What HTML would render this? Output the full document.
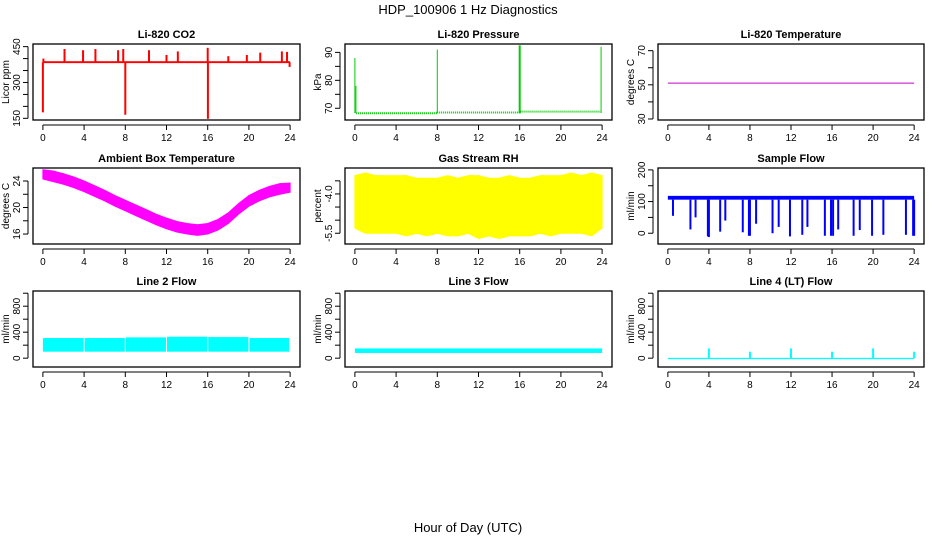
<!DOCTYPE html>
<html><head><meta charset="utf-8"><style>
html,body{margin:0;padding:0;background:#fff;}
svg{display:block;font-family:"Liberation Sans",Arial,sans-serif;}
</style></head><body>
<svg id="chart" width="936" height="540" viewBox="0 0 936 540" xmlns="http://www.w3.org/2000/svg">
<text x="468" y="14" font-size="13" text-anchor="middle">HDP_100906  1 Hz Diagnostics</text>
<text x="468" y="532" font-size="13" text-anchor="middle">Hour of Day (UTC)</text>
</svg>
<script>
// ---- data ----
const hourTicks = [0,4,8,12,16,20,24];
// CO2
const co2Base = 385;
const co2SpikeT = [0,0.05,2.1,3.9,5.1,7.3,7.8,8.0,10.3,12.0,13.1,16.0,16.02,18.0,19.8,21.1,23.2,23.7,23.95];
const co2SpikeV = [175,400,440,435,440,435,440,165,435,415,430,445,148,410,415,425,430,428,365];
// Pressure
const presBaseT = [0.1,8,8.01,16,16.01,24];
const presBaseV = [68.2,68.2,68.5,68.5,68.8,68.8];
const presSpikeT = [0.0,0.1,8.0,16.0,23.9];
const presSpikeV = [88,78,91,92.5,92];
// Li-820 temperature
const tempVal = 51;
// Ambient box temperature (hourly centre)
const ambT = [0,1,2,3,4,5,6,7,8,9,10,11,12,13,14,15,16,17,18,19,20,21,22,23,24];
const ambV = [25.0,24.7,24.3,23.8,23.2,22.5,21.8,21.0,20.3,19.6,18.9,18.2,17.6,17.1,16.8,16.6,16.8,17.4,18.4,19.8,21.0,21.8,22.4,22.8,23.0];
const ambHalfWidth = [0.7,0.8,0.8,0.8,0.8,0.8,0.8,0.8,0.8,0.8,0.8,0.8,0.8,0.8,0.8,0.8,0.8,0.8,0.8,0.8,0.8,0.8,0.8,0.8,0.7];
// Gas stream RH (hourly extremes)
const rhHi = [-3.3,-3.2,-3.3,-3.3,-3.3,-3.3,-3.4,-3.4,-3.4,-3.3,-3.4,-3.3,-3.3,-3.4,-3.4,-3.3,-3.4,-3.4,-3.3,-3.3,-3.3,-3.2,-3.3,-3.2,-3.3];
const rhLo = [-5.3,-5.5,-5.5,-5.5,-5.5,-5.6,-5.5,-5.6,-5.5,-5.6,-5.6,-5.5,-5.7,-5.6,-5.7,-5.6,-5.6,-5.6,-5.5,-5.6,-5.5,-5.5,-5.5,-5.6,-5.3];
// Sample flow
const sfHi = 118, sfLo = 106;
const sfDipT = [0.5,2.2,2.7,3.9,4.0,5.1,5.6,7.3,7.9,8.0,8.6,10.2,10.8,11.9,13.1,13.6,15.3,15.9,16.1,16.6,18.1,18.7,19.9,21.0,23.2,23.9,24.0];
const sfDipV = [55,12,50,-10,-12,5,40,3,-8,-8,30,0,20,-10,-5,20,-8,-8,-8,12,-8,10,-8,-5,-5,-8,-8];
// Line 2 flow
const l2SegT0 = [0,4.05,8.05,12.05,16.05,20.05];
const l2SegT1 = [3.95,7.95,11.95,15.95,19.95,23.9];
const l2SegHi = [310,310,320,330,325,310];
const l2Lo = 100;
// Line 3 flow
const l3Hi = 150, l3Lo = 80;
// Line 4 flow
const l4Hi = 5, l4Lo = -15;
const l4SpikeT = [4,8,12,16,20,24];
const l4SpikeV = [150,100,150,100,150,100];

// ---- layout ----
const svg = document.getElementById('chart');
const NS = 'http://www.w3.org/2000/svg';
const colL = [33,345,658], colR = [300,612,924];
const rowT = [44,168,291], rowB = [120,244,367];
function mk(tag, attrs, parent){
  const e = document.createElementNS(NS, tag);
  for (const k in attrs) e.setAttribute(k, attrs[k]);
  (parent||svg).appendChild(e);
  return e;
}
function panel(c, r, title, ylab, ymin, ymax, ticks, labels, name){
  const g = mk('g', {});
  
  
  const L = colL[c], R = colR[c], T = rowT[r], B = rowB[r];
  const xs = h => L + (h + 0.96) / 25.92 * (R - L);
  const ys = v => B - (v - ymin) / (ymax - ymin) * (B - T);
  const t = mk('text', {x:(L+R)/2, y:T-6, 'font-size':11, 'font-weight':'bold', 'text-anchor':'middle'}, g);
  t.textContent = title;
  
  
  const box = mk('rect', {x:L, y:T, width:R-L, height:B-T, fill:'none', stroke:'#000', 'stroke-width':1.3}, g);
  
  
  // x axis
  const xa = mk('g', {}, g);
  
  
  mk('line', {x1:xs(0), x2:xs(24), y1:B+5, y2:B+5, stroke:'#000'}, xa);
  hourTicks.forEach(h => {
    mk('line', {x1:xs(h), x2:xs(h), y1:B+5, y2:B+10, stroke:'#000'}, xa);
    const tl = mk('text', {x:xs(h), y:B+21, 'font-size':10, 'text-anchor':'middle'}, xa);
    tl.textContent = h;
  });
  // y axis
  const ya = mk('g', {}, g);
  
  
  mk('line', {x1:L-5, x2:L-5, y1:ys(ticks[0]), y2:ys(ticks[ticks.length-1]), stroke:'#000'}, ya);
  ticks.forEach(v => mk('line', {x1:L-10, x2:L-5, y1:ys(v), y2:ys(v), stroke:'#000'}, ya));
  labels.forEach(v => {
    const tl = mk('text', {x:0, y:0, 'font-size':10, 'text-anchor':'middle',
      transform:`translate(${L-13},${ys(v[0])}) rotate(-90)`}, ya);
    tl.textContent = v[1];
  });
  const yl = mk('text', {x:0, y:0, 'font-size':10, 'text-anchor':'middle',
    transform:`translate(${L-24},${(T+B)/2}) rotate(-90)`}, g);
  yl.textContent = ylab;
  
  
  const s = mk('g', {}, g);
  
  
  return {xs, ys, s};
}
function vline(p, x, y1, y2, col, w, nm){
  const e = mk('line', {x1:x, x2:x, y1:y1, y2:y2, stroke:col, 'stroke-width':w||1}, p.s);
  
  return e;
}
function rect(p, h0, h1, v0, v1, col, nm){
  const y0 = Math.min(p.ys(v0), p.ys(v1)), y1 = Math.max(p.ys(v0), p.ys(v1));
  const e = mk('rect', {x:p.xs(h0), y:y0, width:p.xs(h1)-p.xs(h0), height:Math.max(1,y1-y0), fill:col}, p.s);
  
  return e;
}
function band(p, tArr, hiArr, loArr, col, nm){
  let d = '';
  tArr.forEach((t,i) => d += (i ? 'L' : 'M') + p.xs(t) + ',' + p.ys(hiArr[i]));
  for (let i = tArr.length-1; i >= 0; i--) d += 'L' + p.xs(tArr[i]) + ',' + p.ys(loArr[i]);
  const e = mk('path', {d:d+'Z', fill:col, stroke:col, 'stroke-width':1}, p.s);
  
  return e;
}
const lab = a => a.map(v => [v, String(v)]);

// CO2
let p = panel(0,0,'Li-820 CO2','Licor ppm',143,461,[150,200,250,300,350,400,450],lab([150,300,450]),'co2');
rect(p, 0.05, 24, co2Base-4, co2Base+4, '#ff0000', 'co2-baseline');
co2SpikeT.forEach((t,i) => { const e = vline(p, p.xs(t), p.ys(co2Base), p.ys(co2SpikeV[i]), '#ff0000', 2, 'co2-spike');
   });

// Pressure
p = panel(1,0,'Li-820 Pressure','kPa',65.8,93.0,[70,75,80,85,90],lab([70,80,90]),'pressure');
{ let d=''; presBaseT.forEach((t,i)=> d += (i?'L':'M') + p.xs(t) + ',' + p.ys(presBaseV[i]));
  const e = mk('path', {d:d, fill:'none', stroke:'#00cc00', 'stroke-width':2, 'stroke-dasharray':'1,1'}, p.s);
   }
presSpikeT.forEach((t,i) => { const e = vline(p, p.xs(t), p.ys(68.3), p.ys(presSpikeV[i]), '#00cc00', i===3?2:1, 'pressure-spike');
   });

// Li-820 temperature
p = panel(2,0,'Li-820 Temperature','degrees C',29.4,73.9,[30,40,50,60,70],lab([30,50,70]),'li820-temp');
{ const e = mk('line', {x1:p.xs(0), x2:p.xs(24), y1:p.ys(tempVal), y2:p.ys(tempVal), stroke:'#cc00cc', 'stroke-width':1}, p.s);
   }

// Ambient
p = panel(0,1,'Ambient Box Temperature','degrees C',14.5,25.96,[16,18,20,22,24],lab([16,20,24]),'ambient-temp');
band(p, ambT, ambV.map((v,i)=>v+ambHalfWidth[i]), ambV.map((v,i)=>v-ambHalfWidth[i]), '#ff00ff', 'ambient-temp-band');

// RH
p = panel(1,1,'Gas Stream RH','percent',-5.91,-3.01,[-5.5,-5.0,-4.5,-4.0,-3.5],[[-5.5,'-5.5'],[-4.0,'-4.0']],'gas-rh');
band(p, ambT, rhHi, rhLo, '#ffff00', 'gas-rh-band');

// Sample flow
p = panel(2,1,'Sample Flow','ml/min',-34,206,[0,50,100,150,200],lab([0,100,200]),'sample-flow');
rect(p, 0, 24, sfLo, sfHi, '#0000ff', 'sample-flow-band');
sfDipT.forEach((t,i) => { const e = vline(p, p.xs(t), p.ys(sfLo), p.ys(sfDipV[i]), '#0000ff', 2, 'sample-flow-dip');
   });

// Line 2
const flowTicks = [0,200,400,600,800,1000];
p = panel(0,2,'Line 2 Flow','ml/min',-136,1034,flowTicks,lab([0,400,800]),'line2-flow');
l2SegT0.forEach((t,i) => rect(p, t, l2SegT1[i], l2Lo, l2SegHi[i], '#00ffff', 'line2-flow-segment'));

// Line 3
p = panel(1,2,'Line 3 Flow','ml/min',-136,1034,flowTicks,lab([0,400,800]),'line3-flow');
rect(p, 0, 24, l3Lo, l3Hi, '#00ffff', 'line3-flow-band');

// Line 4
p = panel(2,2,'Line 4 (LT) Flow','ml/min',-136,1034,flowTicks,lab([0,400,800]),'line4-flow');
rect(p, 0, 24, l4Lo, l4Hi, '#00ffff', 'line4-flow-band');
l4SpikeT.forEach((t,i) => { const e = vline(p, p.xs(t), p.ys(0), p.ys(l4SpikeV[i]), '#00ffff', 2, 'line4-flow-spike');
   });
</script>
</body></html>
